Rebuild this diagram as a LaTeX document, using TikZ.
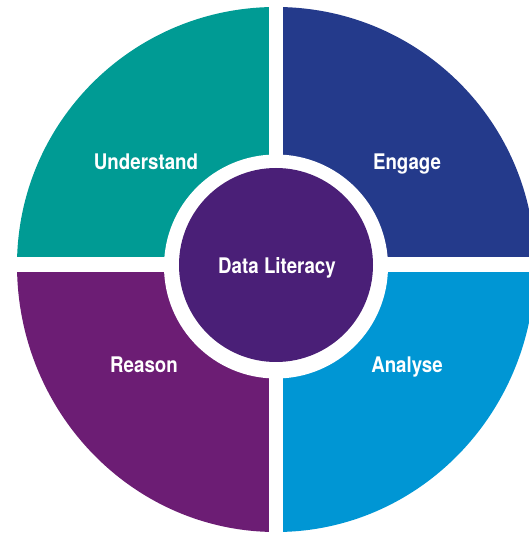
\documentclass[tikz,border=0pt]{standalone}
\usepackage{fontspec}
\setmainfont{TeX Gyre Heros}[FakeStretch=0.87]
\definecolor{cteal}{RGB}{0,155,148}
\definecolor{cnavy}{RGB}{36,58,139}
\definecolor{cblue}{RGB}{0,150,212}
\definecolor{cpurple}{RGB}{108,29,116}
\definecolor{ccenter}{RGB}{74,31,119}
\tikzset{
  lbl/.style={text=white,font=\fontsize{21.5}{24}\selectfont\bfseries,inner sep=0pt,anchor=base},
}
\begin{document}
\begin{tikzpicture}[x=1pt,y=1pt]
\useasboundingbox (0,0) rectangle (529,535);
\clip (0,0) rectangle (529,535);
\coordinate (C) at (276,270);
% quadrants
\fill[cnavy] (C) -- ++(0,258) arc[start angle=90,end angle=0,x radius=259,y radius=258] -- cycle;
\fill[cteal] (C) -- ++(0,258) arc[start angle=90,end angle=180,x radius=259,y radius=258] -- cycle;
\fill[cpurple] (C) -- ++(-259,0) arc[start angle=180,end angle=270,x radius=259,y radius=267] -- cycle;
\fill[cblue] (C) -- ++(259,0) arc[start angle=0,end angle=-90,x radius=259,y radius=267] -- cycle;
% gaps
\fill[white] (269,0) rectangle (283,535);
\fill[white] (0,263) rectangle (529,278);
\fill[white] (276,268.5) circle[radius=112];
\fill[ccenter] (C) circle[radius=97];
% labels
\node[lbl] (und) at (146,365) {Understand};
\node[lbl] (eng) at (407,365.5) {Engage};
\node[lbl] (rea) at (144,162) {Reason};
\node[lbl] (ana) at (407,162) {Analyse};
\node[lbl] (dl) at (277,261) {Data Literacy};
\end{tikzpicture}
\end{document}
